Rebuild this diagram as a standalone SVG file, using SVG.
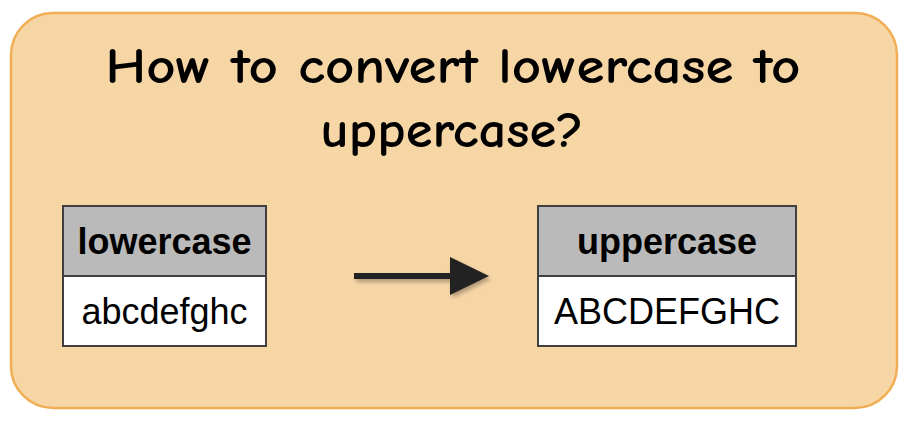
<svg xmlns="http://www.w3.org/2000/svg" width="910" height="422" viewBox="0 0 910 422">
<style>
.title{font-family:"Comic Sans MS","Comic Neue","DejaVu Sans",sans-serif;font-weight:bold;font-size:50px;fill:#000;text-anchor:middle}
.hdr{font-family:"Liberation Sans",Arial,sans-serif;font-weight:bold;font-size:36px;fill:#000;text-anchor:middle}
.cell{font-family:"Liberation Sans",Arial,sans-serif;font-size:36px;fill:#000;text-anchor:middle}
.box{stroke:#404040;stroke-width:2}
</style>
<defs>
<filter id="sh" x="-20%" y="-50%" width="140%" height="200%">
<feGaussianBlur in="SourceAlpha" stdDeviation="2"/>
<feOffset dx="2" dy="3"/>
<feComponentTransfer><feFuncA type="linear" slope="0.3"/></feComponentTransfer>
<feMerge><feMergeNode/><feMergeNode in="SourceGraphic"/></feMerge>
</filter>
</defs>
<g id="container">
<rect x="11" y="13" width="886" height="395" rx="42" ry="42" fill="#F7D6A6" stroke="#F2AE55" stroke-width="2.5"/>
<text class="title" x="453" y="83" textLength="695" lengthAdjust="spacingAndGlyphs">How to convert lowercase to</text>
<text class="title" x="452" y="147" textLength="263" lengthAdjust="spacingAndGlyphs">uppercase?</text>
</g>
<g id="lowercase-table">
<rect class="box" x="63" y="206" width="203" height="70" fill="#BABABA"/>
<rect class="box" x="63" y="276" width="203" height="70" fill="#FFFFFF"/>
<text class="hdr" x="164.5" y="254">lowercase</text>
<text class="cell" x="164.5" y="324">abcdefghc</text>
</g>
<g id="uppercase-table">
<rect class="box" x="538" y="206" width="258" height="70" fill="#BABABA"/>
<rect class="box" x="538" y="276" width="258" height="70" fill="#FFFFFF"/>
<text class="hdr" x="667" y="254">uppercase</text>
<text class="cell" x="667" y="324">ABCDEFGHC</text>
</g>
<g id="connectors" filter="url(#sh)">
<line x1="354" y1="276" x2="452" y2="276" stroke="#222" stroke-width="6"/>
<polygon points="450,257 489,276 450,295" fill="#222"/>
</g>
</svg>
